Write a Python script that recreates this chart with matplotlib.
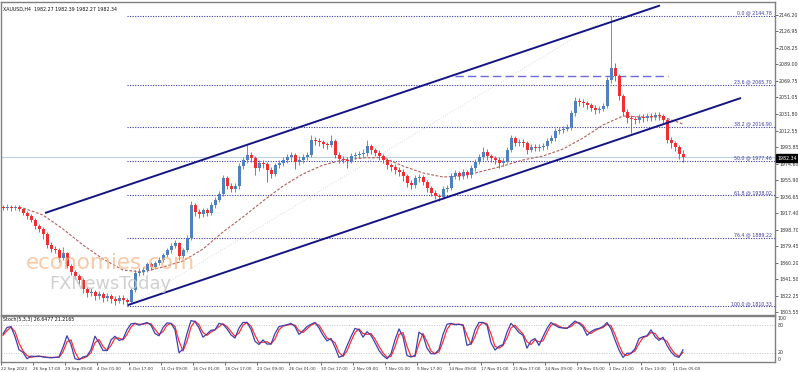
import matplotlib
matplotlib.use("Agg")
import matplotlib.pyplot as plt
import numpy as np

# ---------------- data ----------------
first_open = 1925.0
closes = [1923.6, 1924.8, 1923.6, 1924.8, 1922.5, 1917.9, 1914.4, 1909.8, 1902.9, 1899.4,
          1893.7, 1881.0, 1876.4, 1875.2, 1866.0, 1871.8, 1856.8, 1849.9, 1845.3, 1840.7,
          1830.4, 1825.7, 1826.9, 1822.3, 1824.6, 1820.0, 1822.3, 1818.8, 1816.5, 1820.0,
          1817.7, 1815.4, 1829.2, 1848.8, 1849.9, 1852.2, 1859.1, 1855.7, 1860.3, 1863.7,
          1869.5, 1875.2, 1879.9, 1883.3, 1868.3, 1875.2, 1889.1, 1927.1, 1919.0, 1916.7,
          1921.3, 1917.9, 1927.1, 1932.8, 1939.7, 1958.1, 1948.9, 1945.5, 1948.9, 1972.0,
          1978.9, 1984.6, 1981.2, 1969.7, 1975.4, 1974.3, 1967.4, 1962.8, 1973.1, 1975.4,
          1978.9, 1982.3, 1984.6, 1976.6, 1978.9, 1982.3, 1984.6, 2001.9, 2000.8, 1999.6,
          1997.3, 1996.2, 2000.8, 1984.6, 1980.0, 1978.9, 1977.7, 1983.5, 1984.6, 1985.8,
          1986.9, 1995.0, 1990.4, 1986.9, 1983.5, 1978.9, 1973.1, 1970.8, 1967.4, 1965.1,
          1960.5, 1952.4, 1950.1, 1958.1, 1959.3, 1953.5, 1946.6, 1940.9, 1937.4, 1936.3,
          1945.5, 1946.6, 1960.5, 1963.9, 1960.5, 1965.1, 1961.6, 1969.7, 1976.6, 1982.3,
          1988.1, 1983.5, 1981.2, 1978.9, 1975.4, 1977.7, 1990.4, 2004.2, 1998.4, 1999.6,
          1998.4, 1990.4, 1993.8, 1992.7, 1993.5, 1995.0, 2000.8, 2004.2, 2012.3, 2013.4,
          2014.6, 2016.9, 2033.0, 2046.8, 2045.7, 2044.5, 2042.2, 2038.8, 2036.4, 2037.6,
          2041.1, 2071.0, 2085.0, 2075.6, 2052.6, 2034.1, 2027.2, 2026.1, 2024.9, 2028.4,
          2027.5, 2029.5, 2028.4, 2030.7, 2029.5, 2024.9, 2001.9, 1998.4, 1993.8, 1985.8,
          1982.34]
highs = [1927, 1928, 1927, 1927, 1927, 1924, 1920, 1917, 1912, 1905,
         1902, 1896, 1884, 1880, 1877, 1879, 1873, 1859, 1852, 1848,
         1843, 1833, 1831, 1829, 1828, 1827, 1826, 1825, 1822, 1824,
         1823, 1820, 1832, 1852, 1854, 1856, 1862, 1862, 1863, 1867,
         1872, 1878, 1883, 1887, 1885, 1878, 1893, 1932, 1929, 1922,
         1924, 1924, 1930, 1936, 1943, 1962, 1960, 1952, 1952, 1975,
         1982, 1996, 1988, 1983, 1979, 1979, 1977, 1971, 1976, 1979,
         1982, 1986, 1988, 1987, 1983, 1986, 1988, 2008, 2005, 2004,
         2002, 2000, 2008, 2003, 1988, 1983, 1982, 1987, 1988, 1989,
         1991, 2002, 1997, 1993, 1990, 1986, 1981, 1976, 1974, 1971,
         1968, 1963, 1956, 1962, 1963, 1962, 1956, 1949, 1944, 1940,
         1949, 1950, 1964, 1967, 1966, 1968, 1967, 1973, 1980, 1986,
         1994, 1991, 1986, 1984, 1982, 1981, 1994, 2008, 2007, 2003,
         2003, 2001, 1997, 1997, 1997, 1998, 2004, 2008, 2016, 2017,
         2018, 2020, 2036, 2051, 2050, 2049, 2047, 2045, 2042, 2041,
         2045, 2075, 2144.78, 2090, 2078, 2055, 2038, 2031, 2030, 2032,
         2032, 2033, 2033, 2034, 2034, 2032, 2027, 2005, 2001, 1996,
         1990]
lows = [1921, 1921, 1920, 1921, 1920, 1915, 1911, 1907, 1900, 1896,
        1888, 1878, 1873, 1872, 1862, 1864, 1854, 1846, 1842, 1836,
        1826, 1821, 1822, 1818, 1819, 1815, 1817, 1814, 1812, 1814,
        1813, 1810.33, 1814, 1827, 1845, 1846, 1850, 1852, 1853, 1858,
        1861, 1867, 1872, 1877, 1864, 1866, 1873, 1887, 1914, 1912,
        1913, 1914, 1915, 1924, 1930, 1937, 1945, 1942, 1942, 1946,
        1969, 1975, 1977, 1962, 1966, 1970, 1954, 1958, 1960, 1970,
        1972, 1975, 1979, 1968, 1973, 1976, 1979, 1982, 1996, 1995,
        1993, 1992, 1994, 1981, 1976, 1975, 1970, 1975, 1980, 1981,
        1982, 1984, 1986, 1983, 1979, 1975, 1969, 1966, 1963, 1961,
        1955, 1948, 1946, 1947, 1954, 1950, 1942, 1937, 1934, 1932,
        1934, 1942, 1944, 1957, 1956, 1957, 1958, 1958, 1966, 1974,
        1979, 1979, 1977, 1974, 1970, 1972, 1975, 1988, 1995, 1995,
        1994, 1986, 1988, 1989, 1989, 1990, 1992, 1998, 2001, 2009,
        2010, 2012, 2014, 2030, 2041, 2040, 2038, 2035, 2032, 2033,
        2035, 2039, 2068, 2070, 2048, 2030, 2022, 2010, 2020, 2021,
        2023, 2024, 2024, 2025, 2025, 2020, 1998, 1993, 1989, 1980,
        1976.6]

# moving average sampled at candle indices
ma_idx = [4, 5, 10, 15, 20, 25, 30, 35, 40, 45, 50, 55, 60, 65, 70, 75, 80, 85, 90,
          95, 100, 105, 110, 115, 120, 125, 130, 135, 140, 145, 150, 155, 160, 165, 170]
ma_val = [1924.8, 1923.6, 1915.5, 1899.4, 1881.0, 1864.9, 1852.2, 1849.9, 1855.7, 1862.6,
          1876.4, 1896.0, 1913.3, 1931.7, 1948.9, 1962.8, 1973.1, 1978.9, 1981.2, 1981.8,
          1972.0, 1963.9, 1959.3, 1960.5, 1966.2, 1972.0, 1978.9, 1983.5, 1991.5, 2004.2,
          2019.2, 2029.5, 2028.4, 2028.4, 2020.3]

stoch_k = [61, 75, 77, 55, 27, 21, 7, 13, 12, 13,
           11, 10, 9, 10, 11, 32, 57, 38, 7, 5,
           11, 13, 27, 56, 42, 25, 25, 48, 56, 47,
           50, 70, 83, 84, 80, 83, 86, 80, 62, 57,
           75, 85, 84, 70, 20, 28, 62, 90, 88, 74,
           54, 61, 69, 70, 84, 82, 72, 59, 52, 74,
           86, 86, 71, 45, 38, 48, 39, 39, 62, 77,
           79, 81, 84, 77, 60, 68, 77, 82, 86, 74,
           58, 46, 51, 32, 10, 14, 35, 55, 73, 70,
           54, 66, 58, 42, 25, 14, 7, 18, 48, 72,
           55, 14, 11, 14, 65, 58, 30, 18, 18, 27,
           60, 82, 84, 81, 82, 80, 36, 40, 70, 86,
           86, 80, 42, 26, 34, 38, 65, 84, 75, 64,
           58, 30, 46, 51, 36, 55, 73, 86, 80, 75,
           74, 73, 81, 89, 84, 76, 58, 66, 71, 73,
           77, 86, 72, 48, 26, 10, 19, 19, 29, 51,
           55, 57, 70, 55, 47, 54, 36, 22, 13, 10,
           26.6477]
stoch_d = [58, 68, 76, 66, 41, 24, 14, 10, 12, 12,
           12, 10, 10, 10, 10, 22, 44, 48, 22, 6,
           8, 12, 20, 42, 49, 34, 25, 36, 52, 52,
           48, 60, 76, 84, 82, 82, 84, 83, 71, 60,
           66, 80, 84, 77, 45, 24, 45, 76, 89, 81,
           64, 58, 65, 70, 77, 83, 77, 66, 56, 63,
           80, 86, 78, 58, 42, 43, 44, 39, 50, 70,
           78, 80, 82, 80, 68, 64, 72, 80, 84, 80,
           66, 52, 48, 42, 21, 12, 24, 45, 64, 72,
           62, 60, 62, 50, 34, 20, 10, 12, 33, 60,
           64, 34, 12, 12, 40, 62, 44, 24, 18, 22,
           44, 71, 83, 82, 82, 81, 58, 38, 55, 78,
           86, 83, 61, 34, 30, 36, 52, 74, 80, 70,
           61, 44, 38, 48, 44, 46, 64, 80, 83, 78,
           74, 74, 77, 85, 86, 80, 67, 62, 68, 72,
           75, 82, 79, 60, 37, 18, 14, 19, 24, 40,
           53, 56, 64, 62, 51, 50, 45, 29, 18, 12,
           21.2165]

fib_pct = [0.0, 23.6, 38.2, 50.0, 61.8, 76.4, 100.0]
fib_price = [2144.78, 2065.70, 2016.90, 1977.46, 1938.02, 1889.22, 1810.33]

# drawing objects (time in H4 bars, price)
upper_channel_t = [22.0, 329.5]
upper_channel_p = [1917.85, 2156.8]
lower_channel_t = [63.5, 370.0]
lower_channel_p = [1811.9, 2050.3]
fib_trend_t = [63.5, 305.0]
fib_trend_p = [1810.33, 2144.78]
hline_t = [227.0, 333.5]
hline_p = 2075.6
last_price = 1982.34

y_ticks = [2146.20, 2126.95, 2108.25, 2089.00, 2069.75, 2051.05, 2031.80, 2012.55, 1993.85,
           1974.60, 1955.90, 1936.65, 1917.40, 1898.70, 1879.45, 1860.20, 1841.50, 1822.25, 1803.55]
x_labels = ["22 Sep 2023", "26 Sep 17:00", "29 Sep 09:00", "4 Oct 01:00", "6 Oct 17:00",
            "11 Oct 09:00", "16 Oct 01:00", "18 Oct 17:00", "23 Oct 09:00", "26 Oct 01:00",
            "30 Oct 17:00", "2 Nov 09:00", "7 Nov 01:00", "9 Nov 17:00", "14 Nov 09:00",
            "17 Nov 01:00", "21 Nov 17:00", "24 Nov 09:00", "29 Nov 05:00", "1 Dec 21:00",
            "6 Dec 13:00", "11 Dec 05:00"]
title = "XAUUSD,H4  1982.27 1982.39 1982.27 1982.34"
stoch_title = "Stoch(5,3,3) 26.6477 21.2165"

# ---------------- figure ----------------
W, H = 798, 372
fig = plt.figure(figsize=(W / 100, H / 100), dpi=100)
fig.patch.set_facecolor("white")


def fx(px):
    return px / W


def fy(py):
    return 1 - py / H


ax = fig.add_axes([fx(1), fy(314.5), fx(775) - fx(1), fy(2) - fy(314.5)])
ax2 = fig.add_axes([fx(1), fy(362), fx(775) - fx(1), fy(316) - fy(362)])

FS = 3.4
FSX = 3.0
SPINE = "#808080"
UP = "#4f81bd"
DN = "#f03030"

n = len(closes)
t = 1 + 2 * np.arange(n)
c = np.array(closes)
o = np.concatenate([[first_open], c[:-1]])
hi = np.array(highs, dtype=float)
lo = np.array(lows, dtype=float)
up = c >= o
cols = np.where(up, UP, DN)

# watermark
fig.text(fx(26), fy(263), "economies.com", fontsize=15.5, color="#f8b888", alpha=0.75,
         va="center", ha="left", zorder=0)
fig.text(fx(49), fy(284), "FXNewsToday", fontsize=12.8, color="#c4c4c4", alpha=0.8,
         va="center", ha="left", zorder=0)

# fib
for pct, pr in zip(fib_pct, fib_price):
    ax.hlines(pr, 63, 387, colors="#3a3aa8", linestyles=(0, (1, 1.3)), lw=0.8, zorder=2)
    ax.text(385.5, pr + 0.6, f"{pct:.1f} @ {pr:.2f}", fontsize=FS, color="#3a3aa8",
            ha="right", va="bottom", zorder=5)

ax.plot(fib_trend_t, fib_trend_p, color="#cfcfcf", ls=(0, (1, 2)), lw=0.6, zorder=1)
ax.axhline(last_price, color="#bcd0e2", lw=0.8, zorder=1)
ax.hlines(hline_p, hline_t[0], hline_t[1], colors="#6a6ad8", linestyles=(0, (6, 3)), lw=1.0, zorder=3)

# MA
ax.plot(1 + 2 * np.array(ma_idx), ma_val, color="#b0605a", lw=0.8, ls=(0, (2.5, 1.5)), zorder=3)

# candles
ax.vlines(t, lo, hi, colors=cols, lw=0.6, zorder=4)
body_b = np.minimum(o, c)
body_h = np.maximum(np.abs(c - o), 0.6)
ax.bar(t, body_h, bottom=body_b, width=1.5, color=cols, linewidth=0, zorder=4)

# channels
ax.plot(upper_channel_t, upper_channel_p, color="#141482", lw=1.4, zorder=5, solid_capstyle="butt")
ax.plot(lower_channel_t, lower_channel_p, color="#141482", lw=1.4, zorder=5, solid_capstyle="butt")

ax.set_xlim(0, 387)
ax.set_ylim(1801.0, 2160.8)
ax.set_xticks([])
ax.yaxis.tick_right()
ax.set_yticks(y_ticks)
ax.set_yticklabels([f"{v:.2f}" for v in y_ticks])
ax.tick_params(axis="y", length=2, width=0.5, pad=1, labelsize=FS, colors="#333333")
for s in ax.spines.values():
    s.set_color(SPINE)
    s.set_linewidth(1)

ax.text(0.003, 0.985, title, transform=ax.transAxes, fontsize=FS, ha="left", va="top", color="#111111")

# last price box
fig.text(fx(777), fy(158), f"{last_price:.2f}", fontsize=FS, color="white", ha="left", va="center",
         bbox=dict(boxstyle="square,pad=0.25", fc="black", ec="black"))

# stochastic
ax2.axhline(80, color="#c6c6c6", ls=(0, (1, 1.5)), lw=0.7)
ax2.axhline(20, color="#c6c6c6", ls=(0, (1, 1.5)), lw=0.7)
ax2.plot(t, stoch_d, color="#ff3030", lw=0.9)
ax2.plot(t, stoch_k, color="#4040b0", lw=0.9)
ax2.set_xlim(0, 387)
ax2.set_ylim(0, 100)
ax2.set_yticks([])
xt = 16 * np.arange(len(x_labels))
ax2.set_xticks(xt)
ax2.set_xticklabels(x_labels)
for lab in ax2.get_xticklabels():
    lab.set_ha("left")
ax2.tick_params(axis="x", length=2, width=0.5, pad=1.5, labelsize=FSX, colors="#333333")
for s in ax2.spines.values():
    s.set_color(SPINE)
    s.set_linewidth(1)
ax2.text(0.003, 0.97, stoch_title, transform=ax2.transAxes, fontsize=FS, ha="left", va="top", color="#111111")
for val, va in [(100, "top"), (80, "center"), (20, "center"), (0, "bottom")]:
    ax2.text(1.003, val / 100, str(val), transform=ax2.transAxes, fontsize=FS, ha="left", va=va,
             color="#333333")

fig.savefig("out.png", dpi=100)
